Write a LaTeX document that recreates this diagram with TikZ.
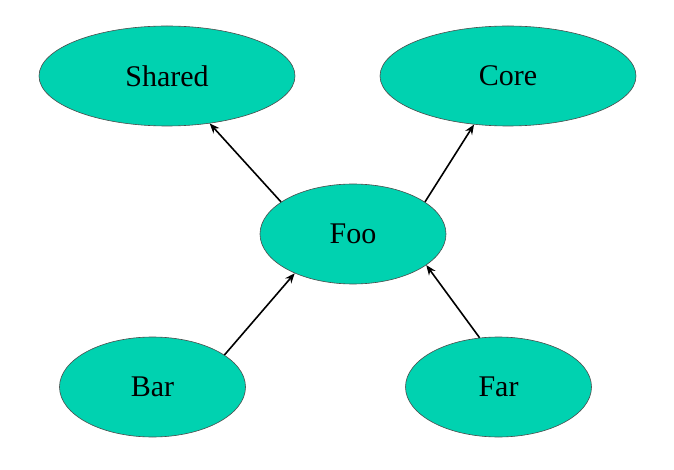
\documentclass[tikz,border=0pt]{standalone}
\usepackage{fontspec}
\setmainfont{Liberation Serif}
\usetikzlibrary{shapes.geometric,arrows.meta}
\definecolor{modfill}{RGB}{0,210,176}

\begin{document}
\begin{tikzpicture}[
	x=0.5pt, y=-0.5pt,
	module/.style={ellipse, fill=modfill, draw=black!70, line width=0.3pt, inner sep=0pt, minimum height=50pt, font=\fontsize{15}{18}\selectfont},
	wide/.style={minimum width=128pt},
	narrow/.style={minimum width=93pt},
	dep/.style={-{Stealth[length=5pt,width=4pt]}, line width=0.8pt}
	]
	\useasboundingbox (0,0) rectangle (674,470);
	
	% --- MODULI ---
	\node[module, wide] (shared) at (167,76) {Shared};
	\node[module, wide] (core) at (508,76) {Core};
	\node[module, narrow] (foo) at (353,234) {Foo};
	\node[module, narrow] (bar) at (152.5,387) {Bar};
	\node[module, narrow] (far) at (498.5,387) {Far};
	
	% --- DIPENDENZE ---
	\draw[dep] (foo.156) -- (shared.-48);
	\draw[dep] (foo.24) -- (core.235);
	\draw[dep] (bar.24) -- (foo.214);
	\draw[dep] (far.111) -- (foo.337);
	
\end{tikzpicture}
\end{document}
